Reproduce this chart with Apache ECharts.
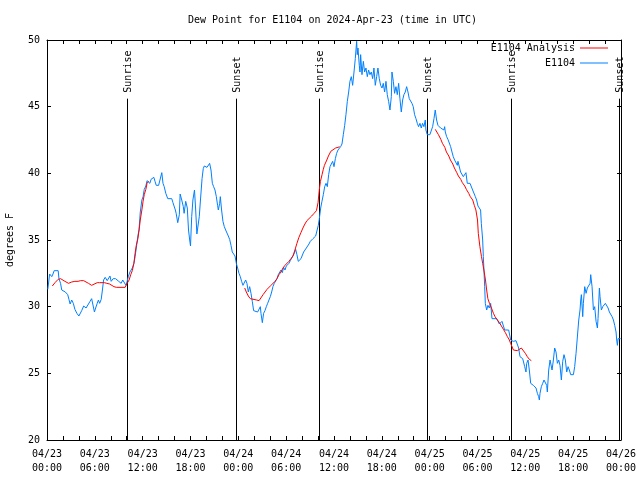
<!DOCTYPE html>
<html><head><meta charset="utf-8">
<script src="https://cdn.jsdelivr.net/npm/echarts@6/dist/echarts.min.js"></script>
<style>html,body{margin:0;padding:0;background:#fff}#c{width:640px;height:480px}</style>
</head><body><div id="c"></div>
<script>
// Hours since 2024-04-23 00:00 UTC
const obsHours = [0.1,0.33,0.6,0.75,0.9,1.4,1.5,1.7,1.85,2.3,2.6,2.75,2.9,3.1,3.3,3.5,3.75,4.0,4.2,4.35,4.6,4.75,4.9,5.2,5.4,5.6,5.75,5.95,6.1,6.3,6.45,6.6,6.8,6.95,7.1,7.3,7.55,7.7,7.9,8.05,8.3,8.6,9.0,9.3,9.5,9.7,9.9,10.05,10.2,10.4,10.55,10.7,10.9,11.05,11.2,11.4,11.55,11.7,11.9,12.05,12.2,12.4,12.55,12.7,12.9,13.05,13.2,13.4,13.55,13.7,14.0,14.2,14.4,14.55,14.7,14.9,15.15,15.4,15.65,15.8,16.1,16.2,16.4,16.6,16.7,16.9,17.1,17.2,17.4,17.6,17.75,17.9,18.0,18.15,18.3,18.5,18.65,18.8,19.0,19.1,19.25,19.45,19.6,19.73,19.9,20.07,20.23,20.4,20.57,20.74,20.9,21.07,21.24,21.4,21.49,21.66,21.74,21.9,22.07,22.24,22.41,22.58,22.74,22.91,23.08,23.24,23.41,23.58,23.75,23.91,24.08,24.25,24.41,24.58,24.75,24.92,25.08,25.25,25.42,25.59,25.75,25.92,26.09,26.42,26.59,26.76,26.84,27.01,27.17,27.34,27.51,27.68,27.84,28.01,28.18,28.34,28.51,28.68,28.85,29.01,29.18,29.35,29.52,29.68,29.85,30.02,30.18,30.35,30.52,30.69,30.85,31.02,31.19,31.35,31.52,31.69,31.86,32.02,32.19,32.36,32.53,32.69,32.86,33.03,33.19,33.36,33.53,33.7,33.86,34.03,34.16,34.33,34.49,34.66,34.83,35.0,35.16,35.33,35.5,35.66,35.83,36.0,36.17,36.33,36.5,36.67,36.83,37.0,37.17,37.34,37.5,37.67,37.84,38.0,38.17,38.34,38.51,38.67,38.84,38.92,39.01,39.17,39.26,39.34,39.51,39.68,39.84,40.01,40.18,40.34,40.51,40.68,40.85,41.01,41.18,41.35,41.51,41.68,41.85,42.02,42.18,42.35,42.52,42.68,42.85,43.02,43.19,43.27,43.44,43.6,43.77,43.94,44.11,44.27,44.44,44.61,44.77,44.94,45.11,45.28,45.44,45.61,45.78,45.94,46.11,46.28,46.45,46.61,46.78,46.95,47.11,47.28,47.45,47.53,47.7,48.03,48.2,48.37,48.54,48.7,48.87,49.04,49.21,49.37,49.54,49.79,49.88,49.96,50.13,50.29,50.46,50.63,50.8,50.96,51.13,51.3,51.47,51.55,51.72,51.88,52.05,52.22,52.39,52.55,52.72,52.89,53.06,53.22,53.39,53.56,53.73,53.89,54.06,54.23,54.39,54.48,54.65,54.73,54.81,54.9,54.98,55.15,55.31,55.48,55.65,55.82,56.07,56.4,56.57,56.74,56.9,57.07,57.24,57.41,57.66,57.91,58.08,58.16,58.33,58.49,58.66,58.83,59.0,59.16,59.33,59.5,59.67,59.83,59.92,60.08,60.17,60.34,60.5,60.67,60.84,61.0,61.17,61.34,61.51,61.67,61.76,61.84,62.01,62.18,62.34,62.51,62.68,62.76,62.93,63.1,63.26,63.35,63.52,63.68,63.85,64.02,64.19,64.35,64.52,64.69,64.85,65.02,65.19,65.36,65.52,65.69,65.86,66.03,66.19,66.36,66.53,66.7,66.86,66.95,67.03,67.2,67.28,67.45,67.62,67.78,67.95,68.12,68.2,68.37,68.54,68.7,68.87,69.04,69.12,69.29,69.37,69.54,69.71,69.87,70.04,70.21,70.38,70.54,70.71,70.88,71.05,71.21,71.38,71.46,71.55,71.63,71.8,71.95];
const obsDewpt = [31.3,32.45,32.25,32.45,32.7,32.7,32.1,31.75,31.25,31.1,30.9,30.55,30.2,30.5,30.25,29.8,29.5,29.3,29.3,29.7,30.05,30.05,29.9,30.2,30.4,30.6,30.55,29.6,29.9,30.25,30.5,30.25,30.55,31.25,32.0,32.2,31.95,32.1,32.3,31.9,32.1,32.1,31.9,31.75,32.0,32.1,31.6,31.9,32.25,32.6,32.5,32.9,33.25,33.75,34.4,35.3,35.8,37.1,38.0,38.25,38.8,39.05,39.45,39.55,39.25,39.55,39.7,39.7,39.4,39.1,39.1,39.1,40.05,39.25,39.0,38.5,38.1,38.0,38.1,37.8,37.25,37.0,36.3,36.9,38.45,38.0,37.5,37.0,37.9,37.4,35.75,35.0,34.55,36.75,38.0,38.75,37.25,35.45,35.45,36.75,38.0,39.6,40.35,40.55,40.6,40.45,40.6,40.75,40.25,39.25,39.0,38.75,38.25,37.6,37.25,37.75,38.25,37.25,36.4,36.0,35.75,35.6,35.3,35.05,34.6,34.1,34.05,33.8,33.25,32.9,32.5,32.25,31.9,31.6,31.5,32.0,31.75,31.1,31.5,31.0,30.4,29.7,29.6,29.6,29.75,30.0,29.5,28.8,29.5,29.7,30.0,30.25,30.5,30.75,31.1,31.5,31.75,31.9,32.1,32.4,32.5,32.75,32.55,32.95,32.75,33.05,33.1,33.25,33.45,33.6,33.8,34.0,34.3,33.9,33.4,33.5,33.6,33.75,34.1,34.25,34.4,34.5,34.7,34.9,35.0,35.1,35.2,35.3,35.4,36.1,36.6,37.4,37.9,38.4,39.0,39.25,39.0,39.9,40.5,40.5,40.9,40.5,41.1,41.5,41.75,41.9,42.0,42.2,42.9,43.6,44.4,45.4,46.1,46.9,47.25,46.6,47.6,48.6,49.9,48.9,49.4,48.1,47.6,48.9,47.4,48.4,47.6,47.9,47.25,47.75,47.4,47.6,47.1,47.9,46.6,47.25,47.9,47.1,46.6,46.4,46.75,46.1,46.9,45.9,45.4,44.75,45.75,47.6,46.9,46.0,46.5,45.9,46.75,45.6,44.6,45.5,45.9,46.1,46.5,46.1,45.6,45.5,45.25,45.0,44.4,44.1,43.75,43.5,43.75,43.4,43.75,43.5,44.0,43.25,42.9,42.9,42.9,43.5,44.1,44.75,44.0,43.6,43.5,43.4,43.25,43.25,43.5,43.1,42.75,42.55,42.5,42.0,41.6,41.25,41.0,40.9,40.6,40.9,41.0,40.1,40.0,39.75,39.9,40.05,39.25,39.4,39.25,39.1,38.75,38.6,38.25,38.0,37.55,37.5,37.25,36.25,35.0,33.75,32.75,31.5,30.25,29.75,30.1,29.9,30.25,29.1,29.1,29.1,28.9,28.7,28.75,28.9,29.0,28.25,28.1,28.25,28.25,27.5,27.5,27.4,27.25,27.45,27.5,26.9,26.25,26.25,26.1,26.0,25.5,25.1,25.75,26.0,25.25,24.25,24.25,24.1,24.1,23.9,23.5,23.25,23.0,23.5,24.0,24.25,24.5,24.6,24.1,23.6,25.25,26.0,26.0,25.25,26.0,26.9,26.6,25.75,26.0,25.6,24.5,25.9,26.4,26.0,25.1,25.5,25.25,24.9,24.75,24.9,25.5,26.5,26.6,29.0,29.75,30.5,30.9,29.25,30.25,31.5,31.0,31.4,31.25,31.75,32.4,31.5,29.75,30.0,28.9,28.4,29.1,31.4,30.75,29.75,30.0,30.1,30.25,30.1,29.9,29.6,29.5,29.25,29.0,28.6,28.1,27.5,27.1,27.6,27.5,27.6];

// Analysis (null separates the three analysis runs)
const anaHours = [0.67,1.0,1.4,1.7,1.9,2.25,2.7,3.1,3.5,3.9,4.2,4.6,4.85,5.2,5.6,5.85,6.3,6.6,7.2,7.5,7.85,8.1,8.4,8.7,9.8,10.0,10.1,10.3,10.5,10.7,10.9,11.05,11.2,11.4,11.55,11.7,11.9,12.05,12.2,12.4,12.55,12.75,
  18,
  24.8,25.0,25.25,25.5,25.7,26.3,26.6,26.85,27.1,27.35,27.6,27.85,28.1,28.35,28.6,28.85,29.1,29.35,29.6,29.85,30.1,30.35,30.6,30.85,31.1,31.35,31.6,31.85,32.1,32.35,32.6,32.85,33.2,33.5,33.8,34.0,34.16,34.3,34.5,34.66,34.8,35.1,35.3,35.6,35.8,36.2,36.5,36.7,
  42,
  48.7,48.9,49.1,49.4,49.6,49.9,50.1,50.4,50.6,50.9,51.1,51.4,51.6,51.9,52.1,52.4,52.6,52.9,53.1,53.4,53.6,53.8,54.0,54.1,54.3,54.5,54.65,54.8,55.0,55.15,55.3,55.5,55.75,56.0,56.2,56.5,56.75,57.0,57.25,57.5,57.75,58.0,58.15,58.3,58.5,58.7,59.0,59.2,59.5,59.75,60.0,60.25,60.5,60.75];
const anaDewpt = [31.55,31.8,32.05,32.1,32.0,31.9,31.75,31.85,31.9,31.9,31.95,31.95,31.9,31.75,31.6,31.7,31.8,31.8,31.8,31.75,31.7,31.6,31.5,31.45,31.45,31.6,31.8,32.0,32.4,32.7,33.25,34.0,34.6,35.1,35.75,36.5,37.25,37.9,38.4,38.8,39.25,39.4,
  null,
  31.4,31.1,30.8,30.6,30.5,30.5,30.45,30.6,30.9,31.1,31.3,31.45,31.6,31.75,31.9,32.1,32.4,32.6,32.9,33.1,33.25,33.4,33.6,33.8,34.25,34.75,35.2,35.55,35.9,36.2,36.45,36.6,36.8,37.0,37.2,37.8,38.8,39.4,39.9,40.3,40.6,41.0,41.3,41.65,41.8,41.9,41.95,42.0,
  null,
  43.3,43.1,42.9,42.55,42.25,41.95,41.6,41.3,41.0,40.7,40.4,40.05,39.8,39.55,39.3,39.05,38.8,38.5,38.25,38.0,37.6,37.25,36.5,35.5,34.5,33.75,33.25,32.75,32.0,31.25,30.6,30.25,29.9,29.5,29.25,29.0,28.8,28.55,28.3,28.05,27.75,27.5,27.25,27.05,26.75,26.7,26.7,26.8,26.9,26.75,26.5,26.25,26.05,25.95];

const sunHours = [10.04, 23.65, 34.16, 47.7, 58.14, 71.75];
const sunLabels = ['Sunrise', 'Sunset', 'Sunrise', 'Sunset', 'Sunrise', 'Sunset'];
const dayLabels = ['04/23', '04/24', '04/25', '04/26'];
const seriesNames = ['E1104 Analysis', 'E1104'];
const titleText = 'Dew Point for E1104 on 2024-Apr-23 (time in UTC)';
const yLabel = 'degrees F';

const FONT = 'DejaVu Sans Mono';
const chart = echarts.init(document.getElementById('c'), null, {renderer: 'canvas'});
const pad = n => (n < 10 ? '0' : '') + n;

const axisCommon = {
  axisLine: {show: true, onZero: false, lineStyle: {color: '#000', width: 1}},
  axisTick: {show: true, inside: true, length: 4, lineStyle: {color: '#000'}},
  splitLine: {show: false}
};

chart.setOption({
  animation: false,
  backgroundColor: '#fff',
  title: {
    text: titleText, left: 188, top: 15, padding: 0,
    textStyle: {fontFamily: FONT, fontSize: 10, fontWeight: 'normal', color: '#000'}
  },
  legend: {
    data: seriesNames, orient: 'vertical', right: 27, top: 38, align: 'right',
    itemWidth: 28, itemHeight: 1, itemGap: 5, icon: 'rect',
    textStyle: {fontFamily: FONT, fontSize: 10, color: '#000'}
  },
  grid: {left: 47, right: 19, top: 40, bottom: 40, containLabel: false, outerBoundsMode: 'none'},
  xAxis: [
    Object.assign({}, axisCommon, {
      type: 'value', min: 0, max: 72, interval: 6, position: 'bottom',
      minorTick: {show: true, splitNumber: 3, length: 4, lineStyle: {color: '#000'}},
      axisLabel: {
        fontFamily: FONT, fontSize: 10, color: '#000', margin: 7, lineHeight: 14,
        formatter: v => dayLabels[Math.floor(v / 24)] + '\n' + pad(v % 24) + ':00'
      }
    }),
    Object.assign({}, axisCommon, {
      type: 'value', min: 0, max: 72, interval: 6, position: 'top',
      minorTick: {show: true, splitNumber: 3, length: 4, lineStyle: {color: '#000'}},
      axisLabel: {show: false}
    })
  ],
  yAxis: [
    Object.assign({}, axisCommon, {
      type: 'value', min: 20, max: 50, interval: 5, position: 'left',
      name: yLabel, nameLocation: 'middle', nameGap: 32, nameRotate: 90,
      nameTextStyle: {fontFamily: FONT, fontSize: 10, color: '#000'},
      axisLabel: {fontFamily: FONT, fontSize: 10, color: '#000', margin: 7}
    }),
    Object.assign({}, axisCommon, {
      type: 'value', min: 20, max: 50, interval: 5, position: 'right',
      axisLabel: {show: false}
    })
  ],
  series: [
    {
      type: 'custom', name: 'sun', xAxisIndex: 0, yAxisIndex: 0, clip: false, silent: true, z: 1,
      data: sunHours.map((h, i) => [h, i]),
      renderItem: function (params, api) {
        const h = api.value(0);
        const b = api.coord([h, 20]);
        const t = api.coord([h, 45.6]);
        const x = Math.round(b[0]) + 0.5;
        return {
          type: 'group', children: [
            {type: 'line', shape: {x1: x, y1: b[1], x2: x, y2: t[1]}, style: {stroke: '#000', lineWidth: 1}},
            {type: 'text', x: x + 1, y: t[1] - 6, rotation: Math.PI / 2,
             style: {text: sunLabels[params.dataIndex], fill: '#000', font: '10px "' + FONT + '"', textAlign: 'left', textVerticalAlign: 'middle'}}
          ]
        };
      }
    },
    {
      type: 'line', name: seriesNames[1], xAxisIndex: 0, yAxisIndex: 0, z: 2,
      data: obsHours.map((h, i) => [h, obsDewpt[i]]),
      showSymbol: false, symbol: 'none', connectNulls: false,
      lineStyle: {color: '#0080ff', width: 1}, itemStyle: {color: '#0080ff'}
    },
    {
      type: 'line', name: seriesNames[0], xAxisIndex: 0, yAxisIndex: 0, z: 3,
      data: anaHours.map((h, i) => [h, anaDewpt[i]]),
      showSymbol: false, symbol: 'none', connectNulls: false,
      lineStyle: {color: '#ff0000', width: 1}, itemStyle: {color: '#ff0000'}
    }
  ]
});
</script>
</body></html>
